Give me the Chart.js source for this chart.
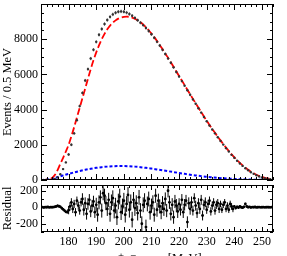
<!DOCTYPE html>
<html>
<head>
<meta charset="utf-8">
<script src="https://cdn.jsdelivr.net/npm/chart.js@4.4.0/dist/chart.umd.min.js"></script>
<style>
html, body { margin: 0; padding: 0; background: #fff; overflow: hidden; width: 287px; height: 256px; }
#wrap { position: relative; width: 287px; height: 256px; }
canvas { position: absolute; left: 0; }
#top { top: 0; }
#res { top: 181px; }
</style>
</head>
<body>
<div id="wrap">
  <canvas id="top" width="287" height="190"></canvas>
  <canvas id="res" width="287" height="90"></canvas>
</div>
<script>
// x range and tick labels
const xMin = 170, xMax = 254;
const xTicks = [180, 190, 200, 210, 220, 230, 240, 250];
const yTicksTop = [0, 2000, 4000, 6000, 8000];
const yTicksRes = [-200, 0, 200];

// events per 0.5 MeV, data points from 172 MeV, 1 MeV apart
const dataStart = 172;
const dataY = [0, 5, 20, 60, 150, 330, 620, 1000, 1450, 2000, 2650, 3400, 4200, 4950, 5650, 6300,
  6900, 7400, 7850, 8250, 8580, 8860, 9090, 9270, 9410, 9500, 9560, 9580, 9560, 9510, 9430, 9330,
  9210, 9080, 8940, 8800, 8640, 8470, 8280, 8080, 7860, 7640, 7400, 7160, 6910, 6660, 6400, 6140,
  5880, 5620, 5360, 5100, 4840, 4580, 4330, 4080, 3830, 3580, 3340, 3100, 2870, 2650, 2430, 2220,
  2010, 1810, 1620, 1430, 1260, 1090, 940, 800, 670, 550, 440, 350, 270, 200, 145, 100, 70, 45, 28];
// error size per 5 MeV, from 170
const dataErr = [5, 40, 80, 95, 100, 100, 100, 95, 90, 85, 75, 65, 55, 45, 35, 20, 10];

// red fit, from 170 MeV, 1 MeV apart
const redStart = 170;
const redY = [0, 5, 15, 40, 110, 280, 560, 920, 1260, 1620, 2000, 2480, 3000, 3550, 4100, 4650,
  5200, 5750, 6300, 6800, 7250, 7650, 8000, 8300, 8560, 8770, 8940, 9070, 9170, 9230, 9270, 9280,
  9270, 9230, 9160, 9070, 8960, 8830, 8680, 8510, 8320, 8120, 7900, 7670, 7430, 7190, 6940, 6690,
  6430, 6170, 5910, 5650, 5390, 5130, 4870, 4610, 4360, 4110, 3860, 3610, 3370, 3130, 2900, 2680,
  2460, 2250, 2040, 1840, 1650, 1460, 1290, 1120, 970, 830, 700, 580, 470, 380, 300, 230, 170, 120,
  85, 55, 35];

// blue component, from 170 MeV, 2 MeV apart
const blueStart = 170;
const blueY = [0, 20, 70, 160, 260, 350, 430, 510, 580, 640, 690, 730, 760, 780, 790, 790, 780, 760,
  730, 690, 650, 600, 550, 500, 450, 400, 350, 300, 260, 220, 180, 150, 120, 95, 75, 58, 44, 33, 24,
  17, 12, 8, 5];

// residuals from 170 MeV, 0.5 MeV apart
const resStart = 170;
const resY = [
  0, 2, -3, 1, 0, 3, -2, 1, 0, 2,
  5, 10, 18, 12, 5, -10, -25, -40, -55, -60,
  -35, 10, 60, -20, 40, -60, 80, 20, -40, 60,
  100, -30, 50, -80, 40, 90, -50, 20, 70, -60,
  30, -90, 60, 120, -40, 170, 140, 50, -20, 90,
  -80, 60, 110, -40, 20, -120, 70, 130, -60, 10,
  80, -90, 40, 150, -30, 60, -150, 90, -10, 50,
  -70, 120, -40, -200, 30, 80, -240, 40, 100, -60,
  20, 60, -90, 140, -30, 80, 10, -60, 50, -20,
  100, -40, 200, 60, -80, 30, -120, 70, 20, -50,
  40, -30, 90, -60, 30, 80, -180, 50, -20, 60,
  -40, 110, 20, -70, 50, -20, 90, -100, 30, 60,
  -30, 40, 80, -50, 20, 60, -40, 30, 50, -20,
  40, -30, 30, 60, -20, 20, -30, 40, 10, -20,
  10, -10, 5, -5, 10, 0, -5, 5, 40, 10,
  0, 5, -3, 2, 0, 3, -2, 0, 2, -1,
  0, 1, -1, 0, 1, 0, -1, 1, 0];
const resErr = [4, 15, 50, 70, 85, 95, 95, 90, 85, 80, 70, 60, 50, 40, 15, 6, 4];

const serif = "'Liberation Serif', 'DejaVu Serif', serif";

const toPoints = (start, step, ys) => ys.map((v, i) => ({ x: start + i * step, y: v }));
const errAt = (arr, m) => arr[Math.min(arr.length - 1, Math.max(0, Math.floor((m - 170) / 5)))];

// error bars, drawn under the markers
const errorBars = {
  id: 'errorBars',
  beforeDatasetsDraw(chart, args, opts) {
    const { ctx, chartArea: a, scales: { x, y } } = chart;
    const pts = chart.data.datasets[opts.index].data;
    ctx.save();
    ctx.beginPath();
    ctx.rect(a.left, a.top, a.right - a.left, a.bottom - a.top);
    ctx.clip();
    ctx.strokeStyle = opts.color;
    ctx.lineWidth = 1;
    ctx.beginPath();
    pts.forEach(p => {
      const e = errAt(opts.err, p.x);
      const px = x.getPixelForValue(p.x);
      const py = y.getPixelForValue(p.y);
      ctx.moveTo(px, y.getPixelForValue(p.y - e));
      ctx.lineTo(px, y.getPixelForValue(p.y + e));
      ctx.moveTo(x.getPixelForValue(p.x - opts.half), py);
      ctx.lineTo(x.getPixelForValue(p.x + opts.half), py);
    });
    ctx.stroke();
    ctx.restore();
  }
};

// frame with inward ticks on all four sides
const frameTicks = {
  id: 'frameTicks',
  afterDatasetsDraw(chart, args, opts) {
    const { ctx, chartArea: a, scales: { x, y } } = chart;
    ctx.save();
    ctx.strokeStyle = '#000';
    ctx.lineWidth = 1;
    ctx.strokeRect(Math.round(a.left) + 0.5, Math.round(a.top) + 0.5,
      Math.round(a.right - a.left) - 1, Math.round(a.bottom - a.top) - 1);
    ctx.beginPath();
    for (let v = xMin; v <= xMax; v += 2) {
      const px = Math.round(x.getPixelForValue(v)) + 0.5;
      const len = v % 10 === 0 ? opts.xMajor : opts.xMinor;
      ctx.moveTo(px, a.bottom); ctx.lineTo(px, a.bottom - len);
      ctx.moveTo(px, a.top); ctx.lineTo(px, a.top + len);
    }
    for (let v = opts.yFrom; v <= y.max; v += opts.yMinorStep) {
      if (v < y.min) continue;
      const py = Math.round(y.getPixelForValue(v)) + 0.5;
      const len = v % opts.yMajorStep === 0 ? opts.yMajor : opts.yMinor;
      ctx.moveTo(a.left, py); ctx.lineTo(a.left + len, py);
      ctx.moveTo(a.right, py); ctx.lineTo(a.right - len, py);
    }
    ctx.stroke();
    ctx.restore();
  }
};

function yAxis(min, max, ticks, title) {
  return {
    type: 'linear', min: min, max: max,
    grid: { display: false, drawTicks: false },
    border: { display: false },
    afterBuildTicks: s => { s.ticks = ticks.map(v => ({ value: v })); },
    afterFit: s => { s.width = 41; s.paddingTop = 0; s.paddingBottom = 0; },
    ticks: { color: '#000', padding: 3, callback: v => String(v), font: { family: serif, size: 12 } },
    title: { display: true, text: title, color: '#000', padding: { top: 0, bottom: 0 },
      font: { family: serif, size: 12.5 } }
  };
}

new Chart(document.getElementById('top'), {
  type: 'line',
  data: {
    datasets: [
      { label: 'data', type: 'scatter', data: toPoints(dataStart, 1, dataY),
        pointRadius: 1.2, pointBackgroundColor: '#333', pointBorderWidth: 0, showLine: false },
      { label: 'fit', data: toPoints(redStart, 1, redY), borderColor: '#ff0000', borderWidth: 1.8,
        borderDash: [7, 3], pointRadius: 0, cubicInterpolationMode: 'monotone', fill: false },
      { label: 'bkg', data: toPoints(blueStart, 2, blueY), borderColor: '#0000ff', borderWidth: 2,
        borderDash: [3, 2], pointRadius: 0, cubicInterpolationMode: 'monotone', fill: false }
    ]
  },
  options: {
    responsive: false, animation: false, devicePixelRatio: 1,
    layout: { padding: { left: 0, right: 14, top: 0, bottom: 10 } },
    plugins: {
      legend: { display: false }, tooltip: { enabled: false },
      errorBars: { index: 0, err: dataErr, color: '#777', half: 0.3 },
      frameTicks: { xMajor: 6, xMinor: 3, yFrom: 0, yMinorStep: 500, yMajorStep: 2000, yMajor: 6, yMinor: 3 }
    },
    scales: {
      x: { type: 'linear', min: xMin, max: xMax, display: false },
      y: yAxis(0, 10000, yTicksTop, 'Events / 0.5 MeV')
    }
  },
  plugins: [errorBars, frameTicks]
});

new Chart(document.getElementById('res'), {
  type: 'scatter',
  data: {
    datasets: [
      { label: 'residual', data: toPoints(resStart, 0.5, resY),
        pointRadius: 1.4, pointBackgroundColor: '#000', pointBorderWidth: 0 }
    ]
  },
  options: {
    responsive: false, animation: false, devicePixelRatio: 1,
    layout: { padding: { left: 0, right: 14, top: 2, bottom: 0 } },
    plugins: {
      legend: { display: false }, tooltip: { enabled: false },
      errorBars: { index: 0, err: resErr, color: '#000', half: 0.25 },
      frameTicks: { xMajor: 5, xMinor: 3, yFrom: -300, yMinorStep: 100, yMajorStep: 200, yMajor: 5, yMinor: 3 }
    },
    scales: {
      x: {
        type: 'linear', min: xMin, max: xMax,
        grid: { display: false, drawTicks: false },
        border: { display: false },
        afterBuildTicks: s => { s.ticks = xTicks.map(v => ({ value: v })); },
        afterFit: s => { s.height = 39; s.paddingLeft = 0; s.paddingRight = 0; },
        ticks: { color: '#000', padding: 3, maxRotation: 0, font: { family: serif, size: 12 } },
        title: { display: true, text: 'e\u207Ae\u207B mass [MeV]', color: '#000',
          padding: { top: 0, bottom: 5 }, font: { family: serif, size: 12.5 } }
      },
      y: yAxis(-300, 270, yTicksRes, 'Residual')
    }
  },
  plugins: [errorBars, frameTicks]
});
</script>
</body>
</html>
